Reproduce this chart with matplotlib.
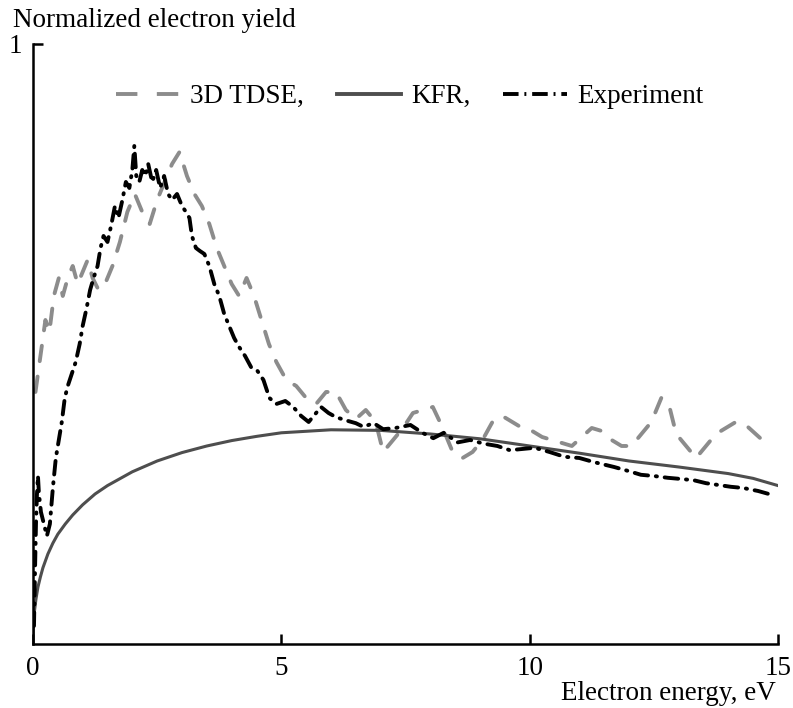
import numpy as np
import matplotlib
matplotlib.use("Agg")
import matplotlib.pyplot as plt
from matplotlib.lines import Line2D
from matplotlib import font_manager

serif_name = 'DejaVu Serif'
for cand in ['Liberation Serif', 'Times New Roman', 'Nimbus Roman']:
    try:
        font_manager.findfont(cand, fallback_to_default=False)
        serif_name = cand
        break
    except ValueError:
        pass
plt.rcParams['font.family'] = 'serif'
plt.rcParams['font.serif'] = [serif_name, 'DejaVu Serif']
plt.rcParams['font.size'] = 19.5

# 3D TDSE spectrum (energy in eV, normalized yield)
tdse = np.array([
    [0.05, 0.42], [0.15, 0.48], [0.25, 0.54], [0.33, 0.52], [0.42, 0.58],
    [0.52, 0.61], [0.60, 0.58], [0.70, 0.61], [0.80, 0.63], [0.90, 0.60],
    [1.00, 0.62], [1.10, 0.64], [1.20, 0.61], [1.32, 0.59], [1.45, 0.60],
    [1.60, 0.63], [1.75, 0.67], [1.90, 0.72], [2.05, 0.75], [2.20, 0.72],
    [2.35, 0.70], [2.50, 0.74], [2.65, 0.77], [2.80, 0.80], [2.95, 0.82],
    [3.10, 0.78], [3.25, 0.75], [3.40, 0.73], [3.55, 0.70], [3.70, 0.66],
    [3.85, 0.63], [4.00, 0.60], [4.15, 0.58], [4.30, 0.61], [4.45, 0.58],
    [4.60, 0.54], [4.75, 0.50], [4.90, 0.47], [5.10, 0.44], [5.30, 0.43],
    [5.50, 0.41], [5.70, 0.40], [5.90, 0.42], [6.10, 0.42], [6.30, 0.39],
    [6.50, 0.375], [6.70, 0.39], [6.90, 0.37], [7.05, 0.32], [7.25, 0.34],
    [7.45, 0.36], [7.65, 0.385], [7.85, 0.39], [8.05, 0.395], [8.25, 0.36],
    [8.45, 0.32], [8.65, 0.31], [8.85, 0.32], [9.05, 0.34], [9.25, 0.37],
    [9.45, 0.38], [9.65, 0.37], [9.85, 0.36], [10.05, 0.355], [10.25, 0.345],
    [10.45, 0.34], [10.65, 0.335], [10.85, 0.33], [11.05, 0.345], [11.25, 0.36],
    [11.45, 0.355], [11.65, 0.34], [11.85, 0.33], [12.05, 0.33], [12.25, 0.35],
    [12.45, 0.37], [12.65, 0.41], [12.80, 0.40], [12.95, 0.35], [13.15, 0.33],
    [13.35, 0.31], [13.55, 0.33], [13.75, 0.35], [13.95, 0.36], [14.15, 0.37],
    [14.35, 0.365], [14.55, 0.35], [14.75, 0.335],
])

# Keldysh-Faisal-Reiss result
kfr_energy = [0, 0.01, 0.03, 0.06, 0.1, 0.15, 0.2, 0.3, 0.4, 0.5, 0.65, 0.8, 1.0,
              1.25, 1.5, 2.0, 2.5, 3.0, 3.5, 4.0, 4.5, 5.0, 6.0, 7.0, 8.0, 9.0,
              10.0, 11.0, 12.0, 13.0, 14.0, 14.5, 15.0]
kfr_yield = [0, 0.03, 0.055, 0.075, 0.095, 0.112, 0.127, 0.15, 0.168, 0.183,
             0.2, 0.215, 0.232, 0.25, 0.264, 0.287, 0.305, 0.319, 0.33, 0.339,
             0.346, 0.352, 0.357, 0.356, 0.35, 0.342, 0.33, 0.318, 0.305,
             0.295, 0.284, 0.276, 0.264]

# measured spectrum
experiment = np.array([
    [0.02, 0.03], [0.04, 0.12], [0.06, 0.20], [0.08, 0.25], [0.10, 0.28],
    [0.12, 0.25], [0.16, 0.22], [0.22, 0.20], [0.28, 0.18], [0.34, 0.20],
    [0.40, 0.26], [0.46, 0.31], [0.52, 0.34], [0.58, 0.37], [0.64, 0.41],
    [0.70, 0.43], [0.78, 0.45], [0.86, 0.47], [0.94, 0.50], [1.00, 0.53],
    [1.08, 0.56], [1.15, 0.59], [1.22, 0.61], [1.30, 0.63], [1.36, 0.66],
    [1.42, 0.68], [1.50, 0.67], [1.58, 0.70], [1.65, 0.73], [1.72, 0.71],
    [1.80, 0.74], [1.87, 0.77], [1.94, 0.76], [2.00, 0.79], [2.04, 0.83],
    [2.08, 0.78], [2.14, 0.77], [2.20, 0.79], [2.26, 0.78], [2.32, 0.80],
    [2.40, 0.77], [2.48, 0.79], [2.56, 0.76], [2.64, 0.78], [2.72, 0.75],
    [2.80, 0.74], [2.90, 0.75], [3.00, 0.73], [3.08, 0.72], [3.15, 0.71],
    [3.20, 0.68], [3.28, 0.66], [3.36, 0.655], [3.45, 0.65], [3.55, 0.63],
    [3.65, 0.60], [3.75, 0.58], [3.85, 0.55], [3.95, 0.53], [4.05, 0.51],
    [4.15, 0.495], [4.27, 0.48], [4.40, 0.46], [4.52, 0.455], [4.64, 0.44],
    [4.76, 0.41], [4.90, 0.40], [5.08, 0.405], [5.24, 0.395], [5.40, 0.38],
    [5.55, 0.37], [5.70, 0.385], [5.80, 0.395], [5.95, 0.385], [6.10, 0.378],
    [6.33, 0.372], [6.50, 0.368], [6.65, 0.362], [6.86, 0.368], [7.05, 0.358],
    [7.30, 0.36], [7.60, 0.365], [7.84, 0.352], [8.06, 0.343], [8.27, 0.352],
    [8.55, 0.336], [8.80, 0.34], [9.07, 0.334], [9.35, 0.33], [9.60, 0.323],
    [9.85, 0.325], [10.10, 0.327], [10.40, 0.32], [10.70, 0.312], [11.00, 0.31],
    [11.30, 0.303], [11.70, 0.295], [12.00, 0.288], [12.24, 0.282], [12.50, 0.28],
    [12.78, 0.277], [13.05, 0.275], [13.30, 0.273], [13.55, 0.268], [13.80, 0.265],
    [14.05, 0.262], [14.30, 0.26], [14.60, 0.255], [14.90, 0.248],
])

xticks = [0, 5, 10, 15]

gray_tdse = '#8c8c8c'
gray_kfr = '#4e4e4e'

fig = plt.figure(figsize=(7.93, 7.08), dpi=100)
ax = fig.add_axes([0.0416, 0.0904, 0.9395, 0.8475])

ax.plot(tdse[:, 0], tdse[:, 1], color=gray_tdse, lw=2.8, dashes=(4, 4),
        solid_capstyle='round', dash_capstyle='round')
ax.plot(kfr_energy, kfr_yield, color=gray_kfr, lw=2.2)
ax.plot(experiment[:, 0], experiment[:, 1], color='black', lw=2.8,
        dashes=(3.5, 2, 0.3, 2), dash_capstyle='round')

ax.set_xlim(0, 15)
ax.set_ylim(0, 1)
ax.set_xticks(xticks)
ax.set_xticklabels([str(t) for t in xticks])
ax.set_yticks([1])
ax.set_yticklabels(['1'])
ax.tick_params(direction='in', length=7, width=1.8, pad=9)
ax.tick_params(axis='y', pad=8)
for side in ['top', 'right']:
    ax.spines[side].set_visible(False)
for side in ['left', 'bottom']:
    ax.spines[side].set_linewidth(1.8)

fig.text(13 / 793, 1 - 27 / 708, 'Normalized electron yield', ha='left', va='baseline')
fig.text(776 / 793, 1 - 700 / 708, 'Electron energy, eV', ha='right', va='baseline')

handles = [
    Line2D([], [], color=gray_tdse, lw=2.8, dashes=(5.5, 5)),
    Line2D([], [], color=gray_kfr, lw=2.8),
    Line2D([], [], color='black', lw=2.8, dashes=(4, 1.5, 0.5, 1.5)),
]
ax.legend(handles, ['3D TDSE,', 'KFR,', 'Experiment'], ncol=3, frameon=False,
          loc='center', bbox_to_anchor=(0.506, 0.912), handlelength=2.35,
          handletextpad=0.4, columnspacing=1.2, borderpad=0, borderaxespad=0)

fig.savefig('out.png', dpi=100)
